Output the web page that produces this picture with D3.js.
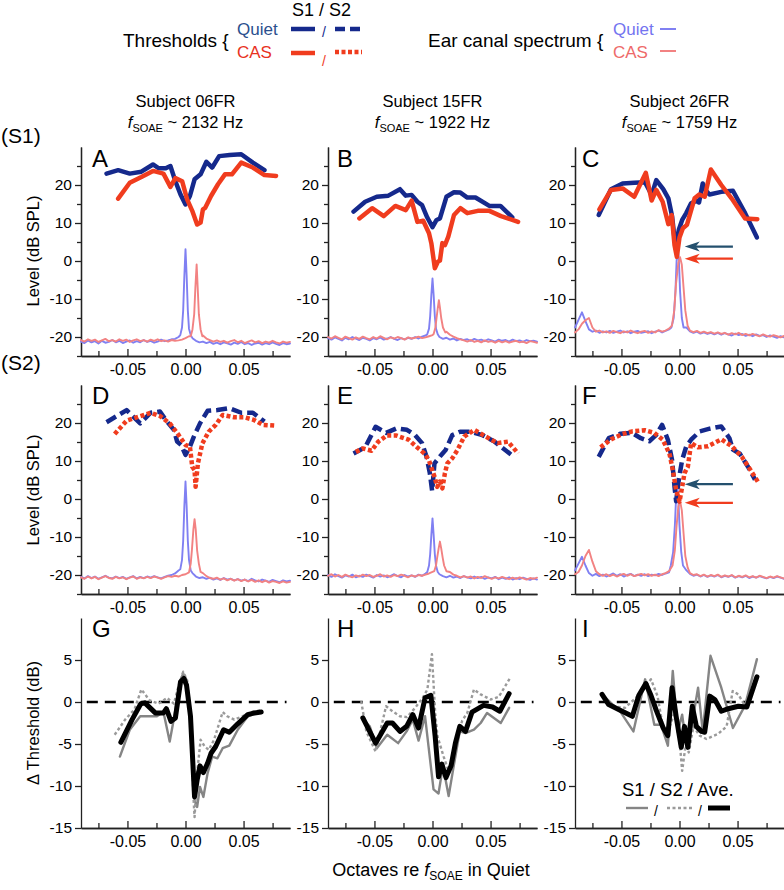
<!DOCTYPE html>
<html><head><meta charset="utf-8">
<script src="https://cdn.jsdelivr.net/npm/d3@7"></script>
<style>
body{margin:0;background:#fff}
svg text{font-family:"Liberation Sans",Arial,Helvetica,sans-serif;fill:#000}
</style></head>
<body><svg id="c" width="784" height="890"></svg>
<script>
// ---------------- DATA ----------------
const subjects = ["06FR", "15FR", "26FR"];
const fSOAE = [2132, 1922, 1759];
const letters = [["A","B","C"],["D","E","F"],["G","H","I"]];
const rowLabels = ["(S1)", "(S2)"];
const xTicks = [-0.05, 0, 0.05];
const xMinor = [-0.075, -0.025, 0.025, 0.075];
const levelTicks = [-20, -10, 0, 10, 20];
const levelMinor = [-25, -15, -5, 5, 15, 25];
const deltaTicks = [-15, -10, -5, 0, 5];

// thresholds, session S1 (solid) [octaves, dB SPL]
const s1QuietA = [[-0.068,23.0],[-0.058,23.9],[-0.048,23.0],[-0.038,23.5],[-0.028,25.4],[-0.023,24.4],[-0.017,24.4],[-0.013,25.0],[-0.0087,21.0],[-0.0043,17.5],[0.000,14.9],[0.0038,17.1],[0.0078,21.5],[0.013,22.8],[0.018,26.1],[0.023,24.6],[0.029,27.6],[0.038,27.9],[0.048,28.1],[0.058,25.9],[0.068,23.9]];
const s1CasA = [[-0.058,16.4],[-0.048,20.6],[-0.038,22.1],[-0.028,23.7],[-0.019,23.0],[-0.013,19.5],[-0.0087,21.8],[-0.0029,21.0],[0.0014,16.2],[0.0058,13.2],[0.010,9.6],[0.013,10.1],[0.015,13.6],[0.017,14.0],[0.022,17.1],[0.028,20.2],[0.034,22.8],[0.040,22.8],[0.048,25.9],[0.058,24.6],[0.068,22.6],[0.078,22.4]];
const s1QuietB = [[-0.068,13.0],[-0.058,15.6],[-0.048,16.9],[-0.038,17.2],[-0.028,18.9],[-0.023,17.2],[-0.018,17.4],[-0.013,15.6],[-0.009,14.7],[-0.0046,11.5],[0.000,8.9],[0.0035,10.8],[0.0064,11.2],[0.012,16.9],[0.0185,18.1],[0.024,18.0],[0.030,16.7],[0.037,16.7],[0.049,14.5],[0.0585,14.5],[0.0687,11.5]];
const s1CasB = [[-0.063,11.2],[-0.052,13.9],[-0.042,11.8],[-0.032,14.5],[-0.023,13.4],[-0.018,15.9],[-0.013,10.3],[-0.008,10.6],[-0.003,7.3],[-0.001,4.7],[0.002,-1.9],[0.0046,-0.2],[0.0064,0.1],[0.0085,4.7],[0.0107,4.2],[0.0136,6.4],[0.0185,12.1],[0.024,13.9],[0.030,12.6],[0.039,13.2],[0.049,13.2],[0.059,11.8],[0.0737,10.3]];
const s1QuietC = [[-0.0696,12.1],[-0.059,18.9],[-0.049,20.4],[-0.039,20.6],[-0.0296,20.7],[-0.024,17.4],[-0.020,21.3],[-0.014,18.9],[-0.0096,16.5],[-0.0064,11.8],[-0.0043,6.0],[-0.0029,4.7],[-0.0006,8.2],[0.0023,10.8],[0.0058,12.6],[0.010,15.2],[0.0145,15.8],[0.0168,15.4],[0.020,20.4],[0.0223,18.7],[0.0258,17.5],[0.036,18.2],[0.046,18.5],[0.0565,12.6],[0.0667,6.2]];
const s1CasC = [[-0.069,13.6],[-0.059,18.7],[-0.049,19.1],[-0.039,16.9],[-0.029,23.2],[-0.024,15.9],[-0.020,18.7],[-0.0145,15.6],[-0.0096,9.7],[-0.0067,12.1],[-0.0043,4.2],[-0.0023,1.1],[0.000,6.2],[0.0029,8.6],[0.0064,9.5],[0.0093,12.6],[0.013,16.5],[0.017,17.5],[0.0217,16.9],[0.027,24.1],[0.036,20.0],[0.046,16.0],[0.0565,11.2],[0.067,11.0]];

// thresholds, session S2 (dashed / dotted)
const s2QuietD = [[-0.068,20.2],[-0.0507,23.4],[-0.039,19.9],[-0.030,22.7],[-0.022,23.0],[-0.016,20.4],[-0.010,18.2],[-0.0072,15.1],[-0.0038,14.2],[0.000,11.6],[0.0038,13.8],[0.0072,16.4],[0.0125,19.9],[0.019,23.2],[0.0275,23.4],[0.0377,23.9],[0.048,22.7],[0.058,22.7],[0.068,20.4]];
const s2CasD = [[-0.061,17.1],[-0.0507,20.6],[-0.039,21.8],[-0.030,22.7],[-0.0217,21.8],[-0.013,19.7],[-0.0058,16.8],[0.000,14.2],[0.0038,13.8],[0.0058,8.5],[0.0078,7.6],[0.0087,3.2],[0.0107,9.4],[0.0145,14.6],[0.020,17.7],[0.026,19.5],[0.032,22.1],[0.042,21.5],[0.0507,21.5],[0.059,20.8],[0.0667,19.5],[0.077,19.3]];
const s2QuietE = [[-0.068,12.0],[-0.058,13.6],[-0.049,19.0],[-0.040,17.4],[-0.031,18.6],[-0.022,18.2],[-0.015,16.8],[-0.009,14.7],[-0.0052,11.2],[-0.0023,6.8],[-0.0003,2.1],[0.0017,9.4],[0.0064,11.2],[0.0113,12.9],[0.017,16.8],[0.0237,17.7],[0.033,17.7],[0.043,16.8],[0.053,15.2],[0.068,11.6]];
const s2CasE = [[-0.066,12.4],[-0.060,13.3],[-0.0525,12.7],[-0.0467,15.1],[-0.0394,16.7],[-0.031,16.7],[-0.0206,15.6],[-0.0133,13.6],[-0.007,12.0],[-0.0032,10.3],[-0.0003,7.7],[0.0017,5.9],[0.0041,3.2],[0.0064,4.6],[0.0085,2.8],[0.0107,6.8],[0.0128,9.4],[0.017,10.7],[0.0215,12.9],[0.0273,16.4],[0.036,18.2],[0.046,16.4],[0.056,14.7],[0.065,15.1],[0.0737,12.0]];
const s2QuietF = [[-0.0696,11.1],[-0.061,16.0],[-0.0507,17.2],[-0.041,17.4],[-0.0333,16.0],[-0.026,15.2],[-0.020,16.9],[-0.015,19.5],[-0.010,15.6],[-0.0064,10.3],[-0.0043,3.3],[-0.0029,-0.6],[-0.0006,5.1],[0.0023,10.3],[0.0058,13.8],[0.010,15.6],[0.0174,17.8],[0.026,18.5],[0.036,19.1],[0.043,16.0],[0.046,13.0],[0.052,11.9],[0.059,8.5],[0.065,5.1]];
const s2CasF = [[-0.068,13.6],[-0.059,15.7],[-0.049,17.1],[-0.0406,17.8],[-0.030,18.1],[-0.0217,17.4],[-0.0145,15.6],[-0.0087,12.0],[-0.0058,7.7],[-0.0029,2.4],[0.000,-0.7],[0.0023,3.2],[0.0043,6.8],[0.0072,8.5],[0.010,14.7],[0.016,13.6],[0.0246,13.9],[0.036,15.7],[0.045,13.9],[0.0537,11.1],[0.061,7.7],[0.068,4.3]];

// ear canal spectra (dB SPL) sampled on specX, plus the SOAE peak samples
const specX = [-0.090,-0.087,-0.084,-0.081,-0.078,-0.075,-0.072,-0.069,-0.066,-0.063,-0.060,-0.057,-0.054,-0.051,-0.048,-0.045,-0.042,-0.039,-0.036,-0.033,-0.030,-0.027,-0.024,-0.021,-0.018,-0.015,-0.012,-0.009,-0.006,-0.003,0.000,0.003,0.006,0.009,0.012,0.015,0.018,0.021,0.024,0.027,0.030,0.033,0.036,0.039,0.042,0.045,0.048,0.051,0.054,0.057,0.060,0.063,0.066,0.069,0.072,0.075,0.078,0.081,0.084,0.087,0.090];
const specQuietA = [-21.2,-21.6,-20.9,-21.4,-21.1,-21.7,-21.0,-21.5,-21.3,-20.8, -21.4,-21.0,-21.6,-21.2,-20.9,-21.5,-21.1,-21.4,-20.8,-21.3, -21.0,-21.5,-21.2,-20.7,-21.1,-20.9,-20.6,-20.5,-20.0,-18.5, -10,-18.6,-20.3,-21.0,-21.4,-21.2,-21.6,-21.3,-21.8,-21.5, -21.9,-21.4,-21.7,-22.0,-21.5,-21.8,-21.3,-21.9,-21.6,-22.1, -21.7,-21.5,-22.0,-21.6,-21.9,-21.4,-21.8,-22.1,-21.6,-21.9, -21.7];
const peakQuietA = [[-0.0045,-19.5],[-0.003,-17.5],[-0.002,-13],[-0.001,-4],[0.0,3.1],[0.001,-4],[0.002,-13],[0.003,-17.8],[0.0045,-19.5]];
const specCasA = [-20.8,-21.2,-20.6,-21.0,-20.7,-21.3,-20.9,-20.5,-21.1,-20.8, -21.2,-20.6,-21.0,-20.7,-21.3,-20.9,-20.6,-21.1,-20.8,-21.2, -20.7,-21.0,-20.6,-21.1,-20.9,-21.2,-20.8,-21.0,-20.9,-20.7, -20.3,-19.8,-18.5,-14,-17,-19.6,-20.4,-20.8,-21.2,-20.9, -21.3,-21.0,-21.5,-21.1,-20.8,-21.4,-21.0,-21.6,-21.2,-20.9, -21.4,-21.1,-21.6,-21.2,-21.5,-21.0,-21.4,-21.7,-21.2,-21.5, -21.3];
const peakCasA = [[0.0045,-19.8],[0.006,-18],[0.0075,-14],[0.0085,-7],[0.0096,-0.9],[0.0105,-7],[0.0115,-14],[0.013,-18],[0.0145,-19.8]];
const specQuietB = [-20.3,-20.7,-20.1,-20.5,-20.9,-20.2,-20.6,-20.0,-20.4,-20.8, -20.2,-20.5,-20.9,-20.3,-20.6,-20.1,-20.7,-20.4,-20.0,-20.5, -20.8,-20.3,-20.6,-20.2,-20.5,-20.0,-20.4,-19.9,-19.6,-18.8, -4.6,-19,-20.0,-20.5,-20.2,-20.7,-20.4,-20.9,-20.5,-20.8, -20.6,-21.0,-20.5,-20.9,-20.7,-21.1,-20.6,-20.9,-21.2,-20.7, -21.0,-20.8,-21.2,-20.7,-21.1,-20.9,-21.3,-20.8,-21.1,-21.0, -21.2];
const peakQuietB = [[-0.0045,-19.3],[-0.003,-17.8],[-0.002,-14.5],[-0.001,-9],[0,-4.6],[0.001,-9],[0.002,-14.5],[0.003,-17.8],[0.0045,-19.3]];
const specCasB = [-20.0,-20.4,-19.8,-20.2,-20.6,-19.9,-20.3,-20.7,-20.1,-20.5, -19.9,-20.3,-20.6,-20.0,-20.4,-19.8,-20.2,-20.6,-20.1,-20.4, -20.0,-20.3,-20.7,-20.1,-20.4,-20.2,-19.9,-20.3,-20.1,-19.8, -19.5,-19,-18,-17,-18.6,-19.4,-19.9,-20.3,-20.6,-20.9, -21.2,-20.8,-21.3,-21.0,-21.4,-20.9,-21.3,-21.1,-21.5,-21.0, -21.4,-21.1,-21.5,-21.2,-21.0,-21.4,-21.2,-21.6,-21.1,-21.3, -21.5];
const peakCasB = [[0.001,-19.2],[0.0025,-17.5],[0.0035,-15],[0.0045,-12.5],[0.0055,-10.3],[0.0065,-12.5],[0.0075,-15],[0.009,-17.5],[0.011,-18.8]];
const specQuietC = [-17.5,-15.5,-13.5,-15.8,-18.0,-18.6,-18.3,-18.9,-18.5,-18.8, -18.4,-18.9,-18.6,-18.3,-18.8,-18.5,-19.0,-18.6,-18.4,-18.9, -18.7,-18.5,-19.0,-18.6,-18.3,-18.8,-18.4,-18.0,-17.0,-14.0, 4,-15,-17.5,-18.5,-18.9,-18.6,-19.1,-18.8,-19.2,-18.9, -19.3,-18.9,-19.4,-19.0,-19.3,-19.6,-19.1,-19.5,-19.2,-19.7, -19.4,-19.8,-19.3,-19.7,-19.5,-20.0,-19.6,-19.9,-20.2,-19.8, -20.1];
const peakQuietC = [[-0.007,-17.5],[-0.005,-15],[-0.0035,-8],[-0.0025,0],[-0.0015,4],[-0.0005,0],[0.0005,-8],[0.002,-15],[0.0035,-17.5]];
const specCasC = [-18.8,-18.0,-16.5,-15.6,-15.0,-17.5,-18.6,-18.3,-18.8,-18.5, -18.9,-18.4,-18.7,-19.0,-18.5,-18.8,-18.3,-18.7,-19.0,-18.6, -18.4,-18.9,-18.5,-18.8,-18.2,-18.6,-18.3,-17.8,-16.5,-13, 1,-14,-17,-18.3,-18.7,-18.4,-18.9,-18.6,-19.0,-18.7, -19.1,-18.8,-19.2,-18.9,-19.4,-19.0,-19.3,-18.9,-19.5,-19.2, -19.6,-19.2,-19.5,-19.8,-19.3,-19.7,-19.9,-19.5,-19.8,-20.1, -19.7];
const peakCasC = [[-0.0065,-17],[-0.0045,-13],[-0.003,-6],[-0.001,-0.5],[0.0005,1],[0.002,-1],[0.0035,-7],[0.005,-13],[0.007,-17]];
const specQuietD = [-20.5,-20.9,-20.3,-20.8,-20.4,-21.0,-20.6,-20.2,-20.7,-20.9, -20.4,-20.8,-20.5,-21.0,-20.6,-20.3,-20.9,-20.5,-20.8,-20.4, -20.7,-20.3,-20.6,-20.9,-20.5,-20.2,-20.0,-19.6,-18.8,-16.5, 4.6,-16.8,-19.5,-20.4,-20.8,-20.6,-21.0,-20.7,-21.2,-20.9, -21.3,-20.8,-21.2,-21.0,-21.4,-21.1,-21.5,-21.2,-21.6,-21.0, -21.4,-21.7,-21.2,-21.5,-21.8,-21.3,-21.6,-21.9,-21.4,-21.7, -21.5];
const peakQuietD = [[-0.0045,-18.5],[-0.003,-16],[-0.002,-11],[-0.001,-2],[0,4.6],[0.001,-2],[0.002,-11],[0.003,-16],[0.0045,-18.8]];
const specCasD = [-20.6,-21.0,-20.4,-20.9,-20.5,-21.1,-20.7,-20.3,-20.8,-21.0, -20.5,-20.9,-20.6,-21.1,-20.7,-20.4,-21.0,-20.6,-20.9,-20.5, -20.8,-20.4,-20.7,-21.0,-20.6,-20.3,-20.5,-20.2,-20.4,-20.0, -19.8,-19.0,-17.5,-14,-17.8,-19.5,-20.3,-20.8,-21.0,-20.7, -21.2,-20.9,-21.4,-21.0,-21.5,-21.1,-21.6,-21.2,-21.7,-21.3, -21.8,-21.4,-21.9,-21.5,-22.0,-21.6,-21.8,-22.1,-21.7,-22.0, -21.8];
const peakCasD = [[0.003,-19.3],[0.0045,-17],[0.0055,-13.5],[0.0068,-8],[0.0078,-5.3],[0.0088,-8],[0.01,-13.5],[0.0115,-17],[0.013,-19.2]];
const specQuietE = [-20.0,-20.5,-19.8,-20.3,-20.7,-20.1,-20.4,-19.9,-20.6,-20.2, -20.5,-19.9,-20.3,-20.7,-20.0,-20.4,-20.1,-20.6,-20.2,-19.8, -20.3,-20.6,-20.0,-20.4,-20.1,-20.5,-19.9,-20.2,-19.6,-18.5, -5.1,-18.6,-19.8,-20.3,-20.6,-20.2,-20.7,-20.4,-20.8,-20.3, -20.6,-20.9,-20.4,-20.8,-20.5,-21.0,-20.6,-20.9,-20.5,-21.1, -20.7,-21.0,-20.6,-21.2,-20.8,-21.1,-20.7,-21.0,-21.3,-20.9, -21.2];
const peakQuietE = [[-0.0045,-19.2],[-0.003,-17.5],[-0.002,-14.5],[-0.001,-9.5],[0,-5.1],[0.001,-9.5],[0.002,-14.5],[0.003,-17.5],[0.0045,-19.2]];
const specCasE = [-20.2,-19.8,-20.4,-20.0,-20.5,-19.9,-20.3,-20.6,-20.1,-20.4, -19.9,-20.3,-20.0,-20.5,-20.2,-19.8,-20.4,-20.1,-20.5,-20.0, -20.3,-19.9,-20.2,-20.6,-20.1,-20.4,-20.0,-20.2,-19.9,-19.6, -19.2,-18.5,-17,-15,-17.8,-19.2,-19.9,-20.2,-20.6,-20.3, -20.7,-20.4,-20.9,-20.5,-20.8,-20.3,-20.7,-21.0,-20.6,-20.9, -20.5,-20.8,-21.1,-20.7,-21.0,-20.6,-20.9,-21.2,-20.8,-21.0, -20.7];
const peakCasE = [[0.0015,-19],[0.003,-17.5],[0.004,-15.5],[0.0053,-13],[0.0064,-11.2],[0.0075,-13],[0.0088,-15.5],[0.01,-17.5],[0.012,-19]];
const specQuietF = [-18.8,-17.0,-15.2,-17.5,-19.5,-20.2,-19.7,-20.3,-19.9,-20.4, -20.0,-19.6,-20.2,-19.8,-20.4,-20.0,-19.7,-20.3,-19.9,-20.2, -19.8,-20.3,-19.9,-20.1,-19.7,-20.0,-19.6,-19.3,-18.5,-15, 4,-16,-18.8,-19.7,-20.2,-19.9,-20.4,-20.0,-20.5,-20.1, -20.4,-20.0,-20.6,-20.2,-20.5,-20.1,-20.7,-20.3,-20.6,-20.2, -20.8,-20.4,-20.7,-20.3,-20.6,-20.9,-20.5,-20.8,-20.4,-20.7, -21.0];
const peakQuietF = [[-0.0075,-17.5],[-0.0055,-14],[-0.004,-7],[-0.003,0],[-0.002,4],[-0.001,0],[0.0,-7],[0.0015,-14],[0.003,-17.5]];
const specCasF = [-19.8,-19.2,-17.5,-15.0,-13.4,-16.5,-19.0,-19.8,-20.2,-19.8, -20.3,-19.9,-20.4,-20.0,-19.7,-20.2,-19.8,-20.3,-20.0,-19.7, -20.1,-19.8,-20.2,-19.9,-20.3,-19.8,-19.5,-19.0,-18.0,-14.5, -1,-15.5,-18.5,-19.5,-20.0,-19.8,-20.3,-19.9,-20.4,-20.0, -20.3,-19.9,-20.5,-20.1,-20.4,-20.0,-20.6,-20.2,-20.5,-20.1, -20.6,-20.3,-20.7,-20.2,-20.5,-20.8,-20.4,-20.7,-20.3,-20.6, -20.9];
const peakCasF = [[-0.006,-17.5],[-0.004,-13.5],[-0.0025,-7],[-0.001,-2],[0.0005,-0.5],[0.002,-3],[0.0035,-9],[0.005,-15],[0.007,-18]];

// arrows in C and F (threshold level at SOAE peak)
const arrowSpan = [0.0045, 0.046];
const arrowsC = [3.8, 0.6];   // [quiet, CAS]
const arrowsF = [3.9, -1.0];

// Δ threshold (dB): S1, S2, average
const dS1G = [[-0.0565,-6.5],[-0.048,-3.3],[-0.039,-1.7],[-0.030,-1.7],[-0.0246,-1.7],[-0.019,-1.2],[-0.0136,-4.7],[-0.0096,-1.7],[-0.005,2.3],[-0.002,3.4],[0.0009,2.6],[0.005,-3.7],[0.0078,-11.7],[0.010,-12.5],[0.0125,-10.1],[0.0154,-11.3],[0.019,-8.5],[0.023,-6.5],[0.0275,-6.7],[0.032,-5.5],[0.0377,-5.2],[0.045,-3.3],[0.0536,-1.7],[0.062,-1.3]];
const dS2G = [[-0.061,-3.9],[-0.052,-2.1],[-0.044,-0.9],[-0.038,1.5],[-0.031,0.2],[-0.023,-0.2],[-0.016,0.5],[-0.010,-0.2],[-0.0058,2.0],[-0.002,3.6],[0.0014,2.6],[0.0043,-1.3],[0.0067,-10.9],[0.0078,-13.7],[0.010,-8.5],[0.013,-4.5],[0.0165,-5.3],[0.020,-5.7],[0.0246,-4.5],[0.032,-1.2],[0.036,-1.7],[0.042,-2.1],[0.049,-1.7],[0.0565,-1.2],[0.065,-1.0]];
const dAveG = [[-0.0557,-4.8],[-0.046,-2.1],[-0.0385,-0.2],[-0.035,-0.1],[-0.026,-1.3],[-0.019,-1.3],[-0.0165,-0.8],[-0.0125,-2.3],[-0.0087,-1.9],[-0.0043,2.4],[-0.0014,2.8],[0.0009,2.0],[0.0043,-1.7],[0.0078,-11.3],[0.010,-9.3],[0.0125,-7.6],[0.0154,-8.4],[0.019,-7.3],[0.022,-6.1],[0.026,-5.3],[0.0328,-3.3],[0.0377,-3.6],[0.045,-2.6],[0.0536,-1.5],[0.0594,-1.3],[0.0652,-1.2]];
const dS1H = [[-0.060,-2.1],[-0.054,-2.9],[-0.048,-5.5],[-0.039,-3.9],[-0.0296,-4.9],[-0.0223,-3.5],[-0.017,-2.1],[-0.012,-4.6],[-0.0064,-1.7],[-0.0035,-5.2],[0.0009,-10.4],[0.0052,-10.9],[0.009,-7.6],[0.0139,-11.2],[0.0183,-7.6],[0.0235,-3.5],[0.0284,-3.7],[0.0357,-3.3],[0.0415,-2.5],[0.047,-1.3],[0.0588,-2.5],[0.066,-0.7]];
const dS2H = [[-0.0614,0.1],[-0.057,-3.5],[-0.049,-5.9],[-0.040,-0.5],[-0.0345,-1.1],[-0.028,-1.7],[-0.022,-1.8],[-0.015,-0.7],[-0.0084,0.5],[-0.0044,1.5],[-0.0005,5.7],[0.0023,-1.3],[0.0043,-4.1],[0.0096,-6.5],[0.013,-7.9],[0.017,-7.1],[0.021,-4.5],[0.0256,-2.2],[0.030,-1.3],[0.0357,1.5],[0.0415,0.9],[0.050,0.3],[0.057,0.6],[0.067,2.9]];
const dAveH = [[-0.060,-1.9],[-0.049,-4.9],[-0.039,-2.5],[-0.0345,-2.5],[-0.028,-3.5],[-0.0223,-2.9],[-0.017,-1.5],[-0.012,-3.1],[-0.0064,0.5],[-0.0014,0.8],[0.0023,-4.1],[0.0052,-8.9],[0.0081,-7.4],[0.0116,-9.0],[0.016,-7.6],[0.0197,-4.9],[0.0235,-2.9],[0.0284,-3.5],[0.034,-1.2],[0.044,-0.4],[0.0517,-0.6],[0.058,-1.1],[0.066,1.0]];
const dS1I = [[-0.0667,0.9],[-0.0507,-1.2],[-0.0397,-3.5],[-0.0296,2.7],[-0.0217,-2.7],[-0.016,-2.7],[-0.010,-5.2],[-0.0058,3.7],[-0.0015,-3.6],[0.0023,-1.5],[0.0058,-5.2],[0.010,-3.2],[0.016,1.7],[0.020,-3.5],[0.0267,5.5],[0.036,1.7],[0.046,-3.1],[0.0565,-0.4],[0.0667,5.1]];
const dS2I = [[-0.058,-0.5],[-0.047,-0.7],[-0.039,0.3],[-0.032,1.3],[-0.0246,2.7],[-0.0189,0.7],[-0.014,-3.2],[-0.0087,-3.0],[-0.0043,-1.3],[-0.0006,-3.5],[0.0023,-8.2],[0.0052,-5.2],[0.008,-6.0],[0.012,-2.9],[0.0174,-4.0],[0.0232,-4.4],[0.0333,-3.8],[0.0406,-2.9],[0.0458,1.3],[0.0507,0.9],[0.0565,-0.5],[0.0637,1.9]];
const dAveI = [[-0.0667,0.9],[-0.061,-0.3],[-0.0507,-1.0],[-0.0406,-1.7],[-0.035,0.8],[-0.029,2.2],[-0.0246,0.8],[-0.020,-1.0],[-0.014,-3.1],[-0.010,-4.0],[-0.0064,1.7],[-0.0029,-1.7],[0.0015,-5.4],[0.0043,-2.9],[0.0072,-5.4],[0.011,-0.5],[0.0145,-2.9],[0.0189,-3.5],[0.0217,-3.6],[0.026,0.7],[0.0304,0.3],[0.036,-1.1],[0.042,-0.8],[0.0507,-0.5],[0.058,-0.6],[0.0667,3.0]];

// ---------------- LAYOUT / STYLE ----------------
const COL = {
  quiet: "#15298c", cas: "#f03c1e",
  specQuiet: "#8080f2", specCas: "#f28282",
  s1: "#858585", s2: "#9a9a9a", ave: "#000",
  arrowQuiet: "#24506e", legQuiet: "#2b4f8e", legCas: "#e8321e",
  legSpecQuiet: "#7474f0", legSpecCas: "#ee6a6a", axis: "#222"
};
const colX = [81, 328, 575];
const rowY = [147, 385, 618];
const W = 209;
const Hs = [209, 209, 210];
const svg = d3.select("#c");

function scales(r, c) {
  const x = d3.scaleLinear().domain([-0.09, 0.09]).range([colX[c], colX[c] + W]);
  const y = d3.scaleLinear().domain(r < 2 ? [-25, 30] : [-15, 10]).range([rowY[r] + Hs[r], rowY[r]]);
  return {x, y};
}

function styleAxis(g, fs) {
  g.selectAll("path,line").attr("stroke", COL.axis).attr("stroke-width", 1.3);
  g.selectAll("text").attr("font-size", fs).attr("font-family", '"Liberation Sans",Arial,sans-serif').attr("fill", "#000");
}

function drawAxes(r, c, x, y) {
  const g = svg.append("g");
  const yl = g.append("g").attr("transform", `translate(${colX[c]},0)`)
    .call(d3.axisLeft(y).tickValues(r < 2 ? levelTicks : deltaTicks).tickSize(6).tickSizeOuter(0).tickPadding(3).tickFormat(d => String(d)));
  styleAxis(yl, 15.5);
  if (r < 2) {
    const ym = g.append("g").attr("transform", `translate(${colX[c]},0)`)
      .call(d3.axisLeft(y).tickValues(levelMinor).tickSize(4).tickSizeOuter(0).tickFormat(""));
    styleAxis(ym, 10);
  }
  const by = rowY[r] + Hs[r];
  const xl = g.append("g").attr("transform", `translate(0,${by})`)
    .call(d3.axisBottom(x).tickValues(xTicks).tickSize(-7).tickSizeOuter(0).tickPadding(8).tickFormat(d => d.toFixed(2)));
  styleAxis(xl, 16);
  const xm = g.append("g").attr("transform", `translate(0,${by})`)
    .call(d3.axisBottom(x).tickValues(xMinor).tickSize(-5).tickSizeOuter(0).tickFormat(""));
  styleAxis(xm, 10);
}

function line(g, x, y, pts, color, width, dash) {
  const gen = d3.line().x(d => x(d[0])).y(d => y(d[1]));
  const p = g.append("path").attr("d", gen(pts)).attr("fill", "none")
    .attr("stroke", color).attr("stroke-width", width).attr("stroke-linejoin", "round");
  if (dash) p.attr("stroke-dasharray", dash).attr("stroke-linecap", "butt");
  else p.attr("stroke-linecap", "round");
  return p;
}

function specSeries(vals, peak) {
  const lo = peak[0][0], hi = peak[peak.length - 1][0];
  const pts = specX.map((xv, i) => [xv, vals[i]]).filter(p => p[0] < lo - 1e-9 || p[0] > hi + 1e-9);
  return pts.concat(peak).sort((a, b) => a[0] - b[0]);
}

function arrow(g, x, y, lvl, color) {
  const tip = x(arrowSpan[0]), tail = x(arrowSpan[1]), yy = y(lvl);
  g.append("line").attr("x1", tip + 8).attr("x2", tail).attr("y1", yy).attr("y2", yy)
    .attr("stroke", color).attr("stroke-width", 2.2);
  g.append("path").attr("d", `M${tip},${yy} L${tip + 15},${yy - 5} L${tip + 11},${yy} L${tip + 15},${yy + 5} Z`)
    .attr("fill", color);
}

// ---------------- LEVEL PANELS ----------------
const levelPanels = [
  {r:0, c:0, q:s1QuietA, k:s1CasA, sq:specSeries(specQuietA, peakQuietA), sk:specSeries(specCasA, peakCasA)},
  {r:0, c:1, q:s1QuietB, k:s1CasB, sq:specSeries(specQuietB, peakQuietB), sk:specSeries(specCasB, peakCasB)},
  {r:0, c:2, q:s1QuietC, k:s1CasC, sq:specSeries(specQuietC, peakQuietC), sk:specSeries(specCasC, peakCasC), arrows:arrowsC},
  {r:1, c:0, q:s2QuietD, k:s2CasD, sq:specSeries(specQuietD, peakQuietD), sk:specSeries(specCasD, peakCasD)},
  {r:1, c:1, q:s2QuietE, k:s2CasE, sq:specSeries(specQuietE, peakQuietE), sk:specSeries(specCasE, peakCasE)},
  {r:1, c:2, q:s2QuietF, k:s2CasF, sq:specSeries(specQuietF, peakQuietF), sk:specSeries(specCasF, peakCasF), arrows:arrowsF}
];

levelPanels.forEach(p => {
  const {x, y} = scales(p.r, p.c);
  drawAxes(p.r, p.c, x, y);
  const g = svg.append("g");
  line(g, x, y, p.sq, COL.specQuiet, 1.9);
  line(g, x, y, p.sk, COL.specCas, 1.9);
  if (p.r === 0) {
    line(g, x, y, p.q, COL.quiet, 4.5);
    line(g, x, y, p.k, COL.cas, 4.5);
  } else {
    line(g, x, y, p.q, COL.quiet, 4.5, "11,5");
    line(g, x, y, p.k, COL.cas, 4.5, "4,2.5");
  }
  if (p.arrows) {
    arrow(g, x, y, p.arrows[0], COL.arrowQuiet);
    arrow(g, x, y, p.arrows[1], COL.cas);
  }
});

// ---------------- DELTA PANELS ----------------
const deltaPanels = [
  {c:0, s1:dS1G, s2:dS2G, ave:dAveG},
  {c:1, s1:dS1H, s2:dS2H, ave:dAveH},
  {c:2, s1:dS1I, s2:dS2I, ave:dAveI}
];
deltaPanels.forEach(p => {
  const {x, y} = scales(2, p.c);
  drawAxes(2, p.c, x, y);
  const g = svg.append("g");
  g.append("line").attr("x1", x(-0.085)).attr("x2", x(0.087)).attr("y1", y(0)).attr("y2", y(0))
    .attr("stroke", "#000").attr("stroke-width", 2.4).attr("stroke-dasharray", "11,7");
  line(g, x, y, p.s1, COL.s1, 2.4);
  line(g, x, y, p.s2, COL.s2, 2.4, "3,2.5");
  line(g, x, y, p.ave, COL.ave, 5);
});

// ---------------- PANEL LETTERS, TITLES ----------------
const letterX = [92, 337, 582];
const letterBase = [167, 404, 637];
letters.forEach((row, r) => row.forEach((L, c) => {
  svg.append("text").attr("x", letterX[c]).attr("y", letterBase[r]).attr("font-size", 24).text(L);
}));

subjects.forEach((s, c) => {
  const cx = colX[c] + W / 2;
  svg.append("text").attr("x", cx).attr("y", 107).attr("text-anchor", "middle").attr("font-size", 16.5)
    .text("Subject " + s);
  const t = svg.append("text").attr("x", cx).attr("y", 128).attr("text-anchor", "middle").attr("font-size", 16.5);
  t.append("tspan").attr("font-style", "italic").text("f");
  t.append("tspan").attr("font-size", 11).attr("dy", 4).text("SOAE");
  t.append("tspan").attr("dy", -4).text(" ~ " + fSOAE[c] + " Hz");
});

svg.append("text").attr("x", 1).attr("y", 143).attr("font-size", 21).text(rowLabels[0]);
svg.append("text").attr("x", 1).attr("y", 370).attr("font-size", 21).text(rowLabels[1]);

// y-axis titles
[["Level (dB SPL)", 251], ["Level (dB SPL)", 490], ["\u0394 Threshold (dB)", 723]].forEach(([t, cy]) => {
  svg.append("text").attr("transform", `translate(39,${cy}) rotate(-90)`).attr("text-anchor", "middle")
    .attr("font-size", 16.5).text(t);
});

// x-axis title
const xt = svg.append("text").attr("x", 431).attr("y", 876).attr("text-anchor", "middle").attr("font-size", 18);
xt.append("tspan").text("Octaves re ");
xt.append("tspan").attr("font-style", "italic").text("f");
xt.append("tspan").attr("font-size", 12).attr("dy", 4).text("SOAE");
xt.append("tspan").attr("dy", -4).text(" in Quiet");

// ---------------- TOP LEGEND ----------------
const lg = svg.append("g");
lg.append("text").attr("x", 123).attr("y", 47).attr("font-size", 19).text("Thresholds {");
lg.append("text").attr("x", 237).attr("y", 35).attr("font-size", 17).style("fill", COL.legQuiet).text("Quiet");
lg.append("text").attr("x", 237).attr("y", 58).attr("font-size", 17).style("fill", COL.legCas).text("CAS");
lg.append("text").attr("x", 292).attr("y", 16).attr("font-size", 18).text("S1 / S2");
function legLine(x1, x2, yy, color, w, dash) {
  const l = lg.append("line").attr("x1", x1).attr("x2", x2).attr("y1", yy).attr("y2", yy)
    .attr("stroke", color).attr("stroke-width", w);
  if (dash) l.attr("stroke-dasharray", dash);
}
legLine(291, 315, 29, COL.quiet, 4.5);
legLine(335, 362, 29, COL.quiet, 4.5, "10,5");
legLine(291, 315, 53, COL.cas, 4.5);
legLine(335, 362, 52, COL.cas, 4.5, "4,2.5");
lg.append("text").attr("x", 322).attr("y", 37).attr("font-size", 14).style("fill", COL.quiet).text("/");
lg.append("text").attr("x", 322).attr("y", 66).attr("font-size", 14).style("fill", COL.cas).text("/");

lg.append("text").attr("x", 428).attr("y", 47).attr("font-size", 19).text("Ear canal spectrum {");
lg.append("text").attr("x", 613).attr("y", 35).attr("font-size", 17).style("fill", COL.legSpecQuiet).text("Quiet");
lg.append("text").attr("x", 613).attr("y", 58).attr("font-size", 17).style("fill", COL.legSpecCas).text("CAS");
legLine(660, 676, 29, COL.specQuiet, 2);
legLine(660, 676, 51, COL.specCas, 2);

// ---------------- LEGEND IN PANEL I ----------------
const li = svg.append("g");
li.append("text").attr("x", 622).attr("y", 796).attr("font-size", 18.5).text("S1 / S2 / Ave.");
li.append("line").attr("x1", 626).attr("x2", 648).attr("y1", 808).attr("y2", 808).attr("stroke", COL.s1).attr("stroke-width", 2.4);
li.append("line").attr("x1", 667).attr("x2", 693).attr("y1", 808).attr("y2", 808).attr("stroke", COL.s2).attr("stroke-width", 2.4).attr("stroke-dasharray", "3,2.5");
li.append("line").attr("x1", 708).attr("x2", 730).attr("y1", 808).attr("y2", 808).attr("stroke", "#000").attr("stroke-width", 5);
li.append("text").attr("x", 654).attr("y", 816).attr("font-size", 14).text("/");
li.append("text").attr("x", 698).attr("y", 816).attr("font-size", 14).text("/");
</script></body></html>
